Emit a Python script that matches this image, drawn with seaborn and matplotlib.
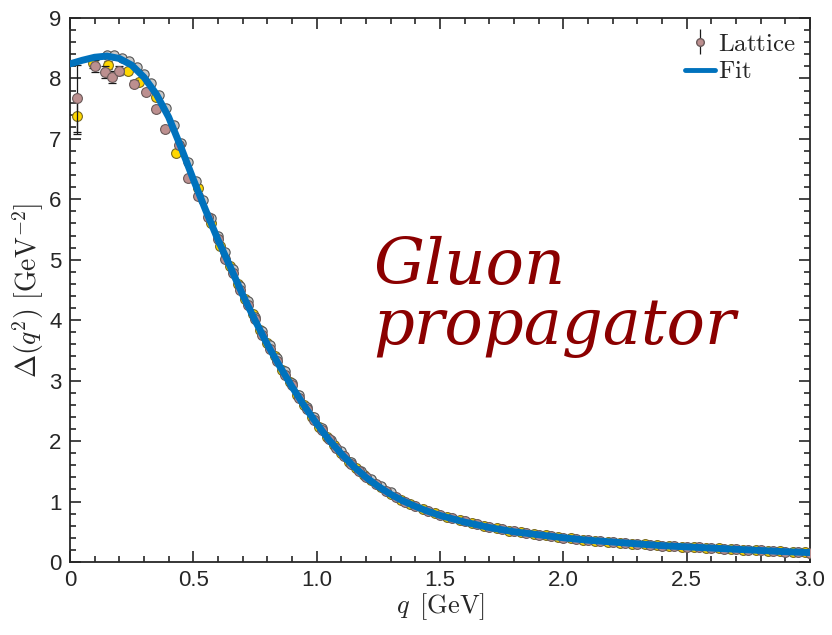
import numpy as np
import pandas as pd
import matplotlib
matplotlib.use("Agg")
import matplotlib.pyplot as plt
from matplotlib.ticker import MultipleLocator
from matplotlib.lines import Line2D
import seaborn as sns

# ---------------- data ----------------
fit_q = [0.00, 0.05, 0.10, 0.15, 0.20, 0.25, 0.30, 0.35, 0.40, 0.45, 0.50, 0.55,
         0.60, 0.65, 0.70, 0.75, 0.80, 0.85, 0.90, 0.95, 1.00, 1.05, 1.10, 1.15,
         1.20, 1.25, 1.30, 1.35, 1.40, 1.45, 1.50, 1.60, 1.70, 1.80, 1.90, 2.00,
         2.10, 2.20, 2.30, 2.40, 2.50, 2.60, 2.70, 2.80, 2.90, 3.00]
fit_d = [8.24, 8.30, 8.35, 8.37, 8.33, 8.22, 8.02, 7.74, 7.36, 6.86, 6.33, 5.82,
         5.33, 4.88, 4.42, 4.00, 3.60, 3.24, 2.90, 2.58, 2.29, 2.02, 1.79, 1.58,
         1.40, 1.25, 1.12, 1.01, 0.92, 0.84, 0.77, 0.66, 0.57, 0.50, 0.45, 0.40,
         0.36, 0.33, 0.30, 0.27, 0.25, 0.23, 0.21, 0.19, 0.17, 0.155]

rose_q = [0.030, 0.100, 0.140, 0.170, 0.200, 0.260, 0.310, 0.350, 0.385, 0.440,
          0.480, 0.52, 0.56, 0.60, 0.63, 0.66, 0.69, 0.72, 0.75, 0.78, 0.81, 0.84,
          0.87, 0.90, 0.93, 0.96, 0.99, 1.02, 1.05, 1.08, 1.11, 1.14, 1.17, 1.20,
          1.24, 1.28, 1.32, 1.36, 1.40, 1.45, 1.50, 1.55, 1.60, 1.65, 1.70, 1.75,
          1.80, 1.85, 1.90, 1.95, 2.00, 2.05, 2.10, 2.15, 2.20, 2.25, 2.30, 2.35,
          2.40, 2.45, 2.50, 2.55, 2.60, 2.65, 2.70, 2.75, 2.80, 2.85, 2.90, 2.95, 3.00]
rose_d = [7.67, 8.20, 8.11, 8.03, 8.13, 7.91, 7.77, 7.49, 7.16, 6.90,
          6.35, 6.05, 5.70, 5.35, 5.02, 4.78, 4.50, 4.25, 4.02, 3.76, 3.52, 3.32,
          3.10, 2.92, 2.71, 2.53, 2.35, 2.18, 2.03, 1.88, 1.75, 1.62, 1.51, 1.41,
          1.29, 1.18, 1.08, 0.99, 0.93, 0.85, 0.78, 0.72, 0.67, 0.62, 0.58, 0.54,
          0.51, 0.48, 0.45, 0.43, 0.40, 0.38, 0.36, 0.345, 0.33, 0.315, 0.30, 0.285,
          0.27, 0.26, 0.25, 0.24, 0.23, 0.22, 0.21, 0.20, 0.19, 0.18, 0.17, 0.165, 0.155]
rose_e = [0.56, 0.10, 0.10, 0.10, 0.08, 0.06, 0.05, 0.05, 0.05, 0.05,
          0.04, 0.04, 0.04, 0.04, 0.04, 0.04, 0.03, 0.03, 0.03, 0.03, 0.03, 0.03,
          0.03, 0.03, 0.03, 0.02, 0.02, 0.02, 0.02, 0.02, 0.02, 0.02, 0.02, 0.02,
          0.02, 0.02, 0.02, 0.01, 0.01, 0.01, 0.01, 0.01, 0.01, 0.01, 0.01, 0.01,
          0.01, 0.01, 0.01, 0.01, 0.01, 0.01, 0.01, 0.01, 0.01, 0.01, 0.01, 0.01,
          0.01, 0.01, 0.01, 0.01, 0.01, 0.01, 0.01, 0.01, 0.01, 0.01, 0.01, 0.01, 0.01]

gold_q = [0.030, 0.095, 0.155, 0.235, 0.280, 0.350, 0.430, 0.520, 0.57, 0.61,
          0.65, 0.68, 0.71, 0.74, 0.77, 0.80, 0.83, 0.86, 0.89, 0.92, 0.95, 0.98,
          1.01, 1.04, 1.07, 1.10, 1.13, 1.16, 1.19, 1.22, 1.26, 1.30, 1.34, 1.38,
          1.43, 1.48, 1.53, 1.58, 1.63, 1.68, 1.73, 1.78, 1.83, 1.88, 1.93, 1.98,
          2.03, 2.08, 2.13, 2.18, 2.23, 2.28, 2.33, 2.38, 2.43, 2.48, 2.53, 2.58,
          2.63, 2.68, 2.73, 2.78, 2.83, 2.88, 2.93, 2.98, 3.00]
gold_d = [7.38, 8.26, 8.22, 8.13, 7.94, 7.69, 6.77, 6.19, 5.60, 5.22,
          4.90, 4.60, 4.35, 4.10, 3.84, 3.62, 3.40, 3.18, 2.97, 2.76, 2.60, 2.40,
          2.24, 2.07, 1.93, 1.80, 1.66, 1.55, 1.44, 1.36, 1.24, 1.13, 1.03, 0.96,
          0.88, 0.81, 0.74, 0.69, 0.64, 0.60, 0.56, 0.52, 0.49, 0.46, 0.44, 0.41,
          0.39, 0.37, 0.35, 0.335, 0.32, 0.305, 0.29, 0.28, 0.265, 0.255, 0.245, 0.235,
          0.225, 0.215, 0.205, 0.195, 0.185, 0.178, 0.17, 0.16, 0.155]
gold_e = [0.30, 0.08, 0.06, 0.05, 0.05, 0.04, 0.04, 0.04, 0.03, 0.03,
          0.03, 0.03, 0.03, 0.03, 0.03, 0.03, 0.03, 0.02, 0.02, 0.02, 0.02, 0.02,
          0.02, 0.02, 0.02, 0.02, 0.02, 0.02, 0.02, 0.02, 0.02, 0.01, 0.01, 0.01,
          0.01, 0.01, 0.01, 0.01, 0.01, 0.01, 0.01, 0.01, 0.01, 0.01, 0.01, 0.01,
          0.01, 0.01, 0.01, 0.01, 0.01, 0.01, 0.01, 0.01, 0.01, 0.01, 0.01, 0.01,
          0.01, 0.01, 0.01, 0.01, 0.01, 0.01, 0.01, 0.01, 0.01]

gray_q = [0.15, 0.18, 0.21, 0.24, 0.27, 0.30, 0.33, 0.36, 0.39, 0.42, 0.45, 0.48,
          0.51, 0.54, 0.57, 0.60, 0.63, 0.66, 0.69, 0.72, 0.75, 0.78, 0.81, 0.84,
          0.87, 0.90, 0.93, 0.96, 0.99, 1.02, 1.06, 1.10, 1.14, 1.18, 1.22, 1.26, 1.30]
gray_d = [8.39, 8.38, 8.34, 8.28, 8.19, 8.07, 7.92, 7.73, 7.51, 7.23, 6.93, 6.61,
          6.30, 5.99, 5.69, 5.40, 5.12, 4.85, 4.57, 4.31, 4.06, 3.82, 3.59, 3.37,
          3.16, 2.96, 2.76, 2.57, 2.40, 2.22, 2.02, 1.83, 1.66, 1.51, 1.37, 1.25, 1.15]

# ---------------- style ----------------
sns.set_theme(style="ticks")
plt.rcParams['font.family'] = ['Liberation Sans', 'DejaVu Sans']
plt.rcParams['mathtext.fontset'] = 'cm'

fig = plt.figure(figsize=(8.32, 6.35), dpi=100)
ax = fig.add_axes([0.0841, 0.115, 0.8895, 0.8567])

fit_df = pd.DataFrame({'q': fit_q, 'd': fit_d})
rose_df = pd.DataFrame({'q': rose_q, 'd': rose_d, 'e': rose_e})
gold_df = pd.DataFrame({'q': gold_q, 'd': gold_d, 'e': gold_e})
gray_df = pd.DataFrame({'q': gray_q, 'd': gray_d})

rose_c = '#BC8F8F'
gold_c = '#FFD700'
gray_c = '#C8C8C8'

ax.errorbar(gold_df['q'], gold_df['d'], yerr=gold_df['e'], fmt='none',
            ecolor='#1a1a1a', elinewidth=0.9, capsize=3, capthick=0.9, zorder=2)
sns.scatterplot(data=gold_df, x='q', y='d', ax=ax, color=gold_c, s=50,
                edgecolor='#7a6a20', linewidth=0.8, zorder=3, legend=False)
sns.scatterplot(data=gray_df, x='q', y='d', ax=ax, color=gray_c, s=45,
                edgecolor='#555555', linewidth=0.8, zorder=3, legend=False)
ax.errorbar(rose_df['q'], rose_df['d'], yerr=rose_df['e'], fmt='none',
            ecolor='#1a1a1a', elinewidth=0.9, capsize=3, capthick=0.9, zorder=4)
sns.scatterplot(data=rose_df, x='q', y='d', ax=ax, color=rose_c, s=50,
                edgecolor='#6a5a5a', linewidth=0.8, zorder=5, legend=False)
sns.lineplot(data=fit_df, x='q', y='d', ax=ax, color='#0072BD', linewidth=5,
             zorder=6, legend=False)

# legend handles
h_lat = ax.errorbar([], [], yerr=[], fmt='o', color=rose_c, markeredgecolor='#6a5a5a',
                    markersize=5.5, ecolor='#1a1a1a', elinewidth=0.9, capsize=2.5)
h_fit = Line2D([], [], color='#0072BD', linewidth=3.5)
ax.legend([h_lat, h_fit], [r'$\mathrm{Lattice}$', r'$\mathrm{Fit}$'],
          loc='upper right', frameon=False, fontsize=18, handlelength=1.2,
          handletextpad=0.15, borderaxespad=0.15, labelspacing=0.15,
          bbox_to_anchor=(1.0, 1.0))

ax.set_xlim(0, 3.0)
ax.set_ylim(0, 9)
ax.xaxis.set_major_locator(MultipleLocator(0.5))
ax.xaxis.set_minor_locator(MultipleLocator(0.1))
ax.yaxis.set_major_locator(MultipleLocator(1))
ax.yaxis.set_minor_locator(MultipleLocator(0.2))
ax.set_xticks([0, 0.5, 1.0, 1.5, 2.0, 2.5, 3.0])
ax.set_xticklabels(['0', '0.5', '1.0', '1.5', '2.0', '2.5', '3.0'])

ax.tick_params(which='both', direction='in', top=True, right=True,
               colors='#262626', labelsize=16, width=1.2)
ax.tick_params(which='major', length=8, pad=6)
ax.tick_params(which='minor', length=4)
for sp in ax.spines.values():
    sp.set_linewidth(1.3)
    sp.set_color('#262626')

ax.set_xlabel(r'$q\ \,[\mathrm{GeV}]$', fontsize=19, labelpad=0, color='#262626')
ax.set_ylabel(r'$\Delta(q^2)\ [\mathrm{GeV}^{-2}]$', fontsize=20, labelpad=2,
              color='#262626')

ax.text(0.41, 0.487, 'Gluon\npropagator', transform=ax.transAxes,
        fontsize=46, color='#8B0000', family='DejaVu Serif', style='italic',
        ha='left', va='center', linespacing=0.95)

fig.savefig('out.png', dpi=100)
